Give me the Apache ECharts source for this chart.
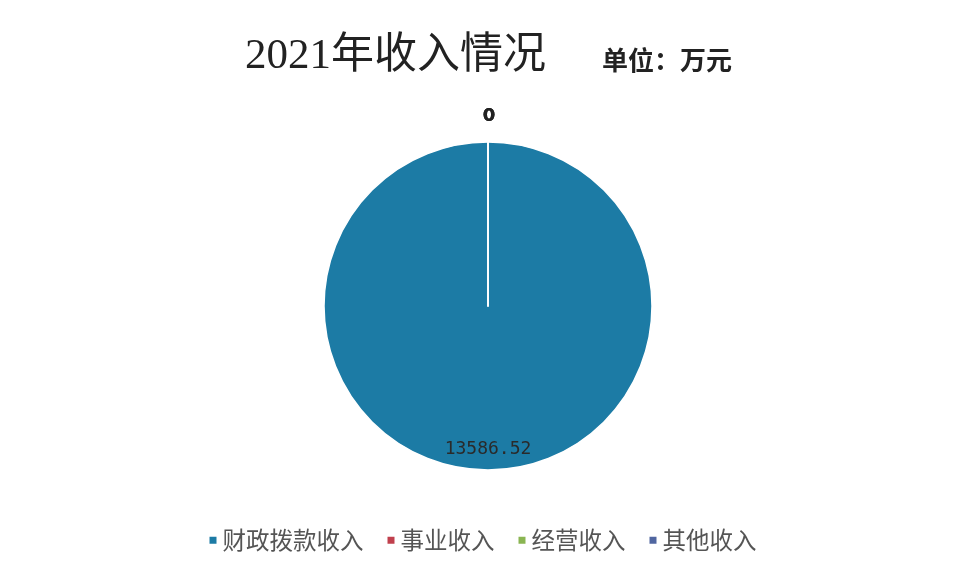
<!DOCTYPE html>
<html>
<head>
<meta charset="utf-8">
<script src="https://cdn.jsdelivr.net/npm/echarts@6/dist/echarts.min.js"></script>
<style>
html,body{margin:0;padding:0;background:#fff;}
#chart{width:964px;height:584px;}
</style>
</head>
<body>
<div id="chart"></div>
<script>
const categories = ['财政拨款收入', '事业收入', '经营收入', '其他收入'];
const values = [13586.52, 0, 0, 0];
const colors = ['#1c7ba5', '#c0404d', '#8ab552', '#5066a0'];

const chart = echarts.init(document.getElementById('chart'), null, {renderer: 'canvas'});
const data = categories.map((name, i) => {
  const item = {name: name, value: values[i], itemStyle: {color: colors[i]}};
  if (values[i] === 0) {
    item.label = {position: 'outside', color: '#222', fontWeight: 'bold', fontSize: 18, fontFamily: 'DejaVu Sans'};
    item.labelLine = {show: false, length: 14, length2: 0};
  }
  return item;
});

chart.setOption({
  backgroundColor: '#ffffff',
  animation: false,
  title: [
    {text: '2021年收入情况', left: 240, top: 30,
     textStyle: {fontSize: 43, fontWeight: 'normal', color: '#222', fontFamily: '"Liberation Serif", "Noto Sans CJK SC"'}},
    {text: '单位：万元', left: 597, top: 45,
     textStyle: {fontSize: 26, fontWeight: 'bold', color: '#222', fontFamily: '"Liberation Serif", "Noto Sans CJK SC"'}}
  ],
  legend: {
    bottom: 27, left: 'center',
    itemWidth: 9, itemHeight: 9, itemGap: 22,
    icon: 'rect',
    textStyle: {fontSize: 23.5, color: '#555', fontFamily: '"Noto Sans CJK SC"', padding: [0, 0, 0, 0]},
    data: categories
  },
  series: [{
    type: 'pie',
    center: [488, 306],
    radius: [0, 164],
    startAngle: 90,
    clockwise: true,
    avoidLabelOverlap: false,
    itemStyle: {borderColor: '#ffffff', borderWidth: 1.5},
    label: {show: true, position: 'inside', formatter: '{c}', fontSize: 18, color: '#2a2a2a', fontFamily: '"DejaVu Sans Mono", "DejaVu Sans"'},
    labelLine: {show: false},
    labelLayout: function (p) {
      return p.dataIndex === 0 ? {dy: 58} : {align: 'center', dx: 6, dy: -12};
    },
    data: data
  }]
});
</script>
</body>
</html>
